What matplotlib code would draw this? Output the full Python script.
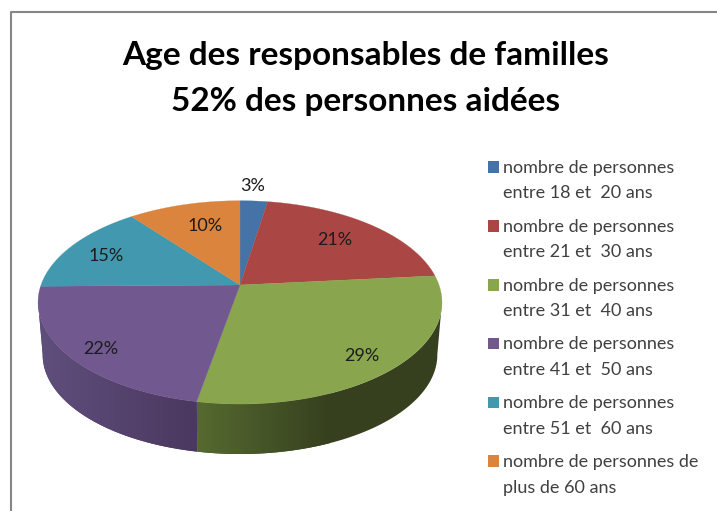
import numpy as np
import matplotlib
matplotlib.use("Agg")
import matplotlib.pyplot as plt
from matplotlib.patches import Rectangle, Polygon
from matplotlib.colors import LinearSegmentedColormap

title_lines = ["Age des responsables de familles", "52% des personnes aidées"]
values = [2.6, 20.9, 29.4, 21.9, 14.6, 10.6]
pct_labels = ["3%", "21%", "29%", "22%", "15%", "10%"]
legend_labels = [
    "nombre de personnes\nentre 18 et  20 ans",
    "nombre de personnes\nentre 21 et  30 ans",
    "nombre de personnes\nentre 31 et  40 ans",
    "nombre de personnes\nentre 41 et  50 ans",
    "nombre de personnes\nentre 51 et  60 ans",
    "nombre de personnes de\nplus de 60 ans",
]
colors = ["#4573a7", "#aa4644", "#89a54e", "#71588f", "#4198af", "#db843d"]
# side wall: slice index -> colour left, colour right, x range of the fade
side_colors = {2: ("#566a30", "#36401e", 197, 330), 3: ("#5f4f7c", "#4b3860", 38, 197)}

# label centres in picture pixels
label_xy = [(253, 186), (335, 240), (362, 356), (101, 349), (106, 256), (205, 226)]

# perspective of the pie, in pixels
CX, CY = 240, 285
A, B, P = 199, 98.7, 0.171
DEPTH = 52.3
SHRINK = 0.977
ELL_CY = 302


def rim(theta):
    # theta in degrees, clockwise from the top
    t = np.radians(theta)
    u, v = np.sin(t), np.cos(t)
    d = 1 + P * v
    return CX + A * u / d, CY - B * v / d


def lower(x, y):
    return CX + (x - CX) * SHRINK, ELL_CY + (y - ELL_CY) * SHRINK + DEPTH


def main():
    plt.rcParams["font.family"] = ["Lato", "DejaVu Sans"]
    fig = plt.figure(figsize=(7.17, 5.11), dpi=100)
    ax = fig.add_axes([0, 0, 1, 1])

    # chart frame
    ax.plot([11, 11, 717], [511, 12, 12], color="#868686", lw=1.5, solid_capstyle="butt")

    edges = np.cumsum([0] + values) / sum(values) * 360

    # side wall, only the front part of the rim shows
    vis_from, vis_to = 99.6, 260.4
    grad = np.linspace(0, 1, 256).reshape(1, -1)
    for i, (c0, c1, x0, x1) in side_colors.items():
        th = np.linspace(max(edges[i], vis_from), min(edges[i + 1], vis_to), 120)
        x, y = rim(th)
        xl, yl = lower(x, y)
        outline = np.c_[np.r_[x, xl[::-1]], np.r_[y, yl[::-1]]]
        clip = Polygon(outline, transform=ax.transData, facecolor="none", edgecolor="none")
        ax.add_patch(clip)
        # flat colour past the right end of the fade, gradient on top of it
        ax.fill(outline[:, 0], outline[:, 1], color=c1, zorder=0.9, lw=0)
        cmap = LinearSegmentedColormap.from_list("side", [c0, c1])
        im = ax.imshow(grad, cmap=cmap, aspect="auto", extent=[x0, x1, 470, 270], zorder=1)
        im.set_clip_path(clip)

    # top of the pie
    for i, col in enumerate(colors):
        th = np.linspace(edges[i], edges[i + 1], 120)
        x, y = rim(th)
        ax.fill(np.r_[CX, x], np.r_[CY, y], color=col, lw=0.2, zorder=2)

    for txt, (x, y) in zip(pct_labels, label_xy):
        ax.text(x, y, txt, ha="center", va="center", fontsize=13, color="#1c1c1c", zorder=3)

    # title
    ax.text(366, 55, title_lines[0], ha="center", va="center", fontsize=24,
            fontweight="bold", color="black")
    ax.text(366, 102, title_lines[1], ha="center", va="center", fontsize=24,
            fontweight="bold", color="black")

    # legend
    for i, (lab, col) in enumerate(zip(legend_labels, colors)):
        y = 167 + i * 58.8
        ax.add_patch(Rectangle((487.5, y - 5.5), 11.5, 11.5, facecolor=col, edgecolor="none"))
        line1, line2 = lab.split("\n")
        ax.text(503, y + 1, line1, va="center", fontsize=13, color="#404040")
        ax.text(503, y + 26.5, line2, va="center", fontsize=13, color="#404040")

    ax.set_xlim(0, 717)
    ax.set_ylim(511, 0)
    ax.axis("off")
    fig.savefig("out.png", dpi=100)


if __name__ == "__main__":
    main()
